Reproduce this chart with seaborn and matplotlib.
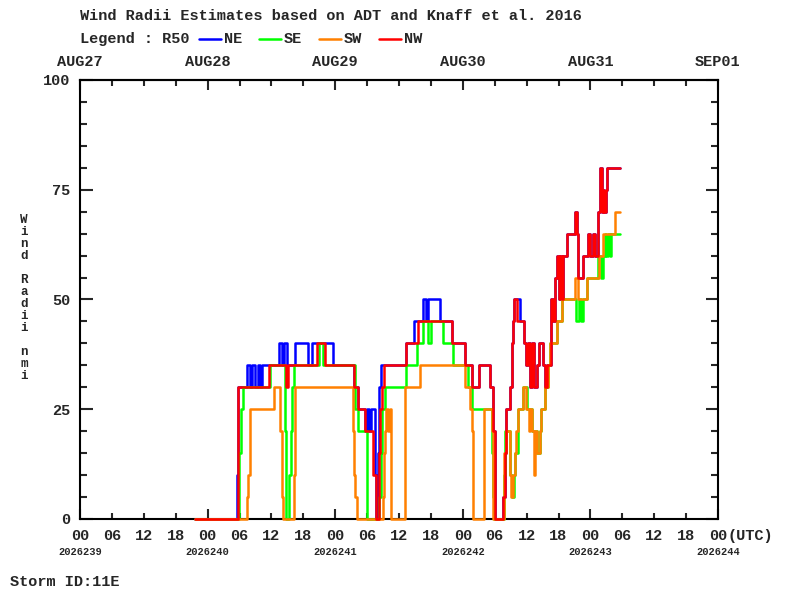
import matplotlib
matplotlib.use('Agg')
import matplotlib.pyplot as plt
import matplotlib.transforms as mtransforms
from matplotlib.lines import Line2D
from matplotlib.ticker import MultipleLocator
import seaborn as sns

# R50 wind radii (nmi), hours since 2026-08-27 00 UTC, step changes
ne_hours = [21.7, 29.5, 29.8, 31.4, 31.9, 32.4, 33.0, 33.4, 33.9, 34.3, 37.4, 37.9, 38.4, 39.0, 40.5, 42.9,
            43.6, 47.5, 51.6, 52.2, 53.6, 53.9, 54.4, 54.8, 55.4, 55.6, 56.0, 56.3, 56.7, 61.4, 62.8, 64.6,
            65.1, 65.5, 67.8, 69.9, 72.4, 73.8, 75.0, 77.2, 77.6, 78.1, 79.6, 79.9, 80.1, 80.9, 81.2, 81.45,
            81.7, 82.8, 83.6, 83.9, 84.2, 84.6, 85.0, 85.4, 85.9, 86.3, 87.1, 87.5, 87.8, 88.5, 89.0, 89.3,
            89.7, 90.0, 90.3, 90.6, 90.9, 91.6, 93.1, 93.5, 93.7, 94.7, 95.6, 96.0, 96.5, 96.9, 97.5, 97.8,
            98.1, 98.4, 98.6, 98.9, 99.1, 101.6]
ne_r50 = [0, 10, 30, 35, 30, 35, 30, 35, 30, 35, 40, 35, 40, 35, 40, 35,
          40, 35, 30, 25, 20, 25, 20, 25, 10, 0, 15, 30, 35, 40, 45, 50,
          45, 50, 45, 40, 35, 30, 35, 30, 20, 0, 5, 15, 25, 30, 40, 45,
          50, 45, 40, 35, 40, 30, 40, 30, 35, 40, 35, 30, 35, 50, 45, 55,
          60, 50, 60, 50, 60, 65, 70, 65, 55, 60, 65, 60, 65, 60, 70, 80,
          70, 75, 70, 75, 80, 80]

se_hours = [21.7, 29.9, 30.2, 30.6, 35.7, 38.6, 38.8, 39.4, 39.6, 39.9, 40.2, 45.0, 45.7, 51.8, 52.2, 53.9,
            56.2, 56.6, 56.8, 57.4, 61.4, 63.4, 64.5, 65.5, 66.1, 68.3, 70.2, 73.0, 73.7, 77.5, 77.7, 77.9,
            79.7, 79.9, 80.9, 81.3, 81.6, 81.9, 82.3, 83.4, 84.0, 85.0, 85.9, 86.5, 86.8, 87.5, 88.1, 88.4,
            89.7, 90.6, 93.2, 93.8, 94.3, 94.6, 95.3, 97.5, 97.9, 98.3, 98.7, 99.0, 99.3, 99.6, 99.9, 101.6]
se_r50 = [0, 15, 25, 30, 35, 20, 0, 10, 20, 30, 35, 40, 35, 25, 20, 0,
          5, 15, 25, 30, 35, 40, 45, 40, 45, 40, 35, 30, 25, 15, 5, 0,
          10, 20, 10, 5, 10, 15, 25, 30, 25, 20, 15, 20, 25, 30, 35, 40,
          45, 50, 45, 50, 45, 50, 55, 60, 55, 60, 65, 60, 65, 60, 65, 65]

sw_hours = [21.7, 31.4, 31.6, 31.9, 36.4, 37.6, 37.9, 38.1, 40.3, 40.5, 51.3, 51.5, 51.8, 52.1, 56.9, 57.2,
            57.4, 57.6, 58.0, 58.3, 58.5, 61.2, 63.9, 72.5, 73.3, 73.7, 73.9, 76.0, 77.4, 77.7, 79.8, 80.1,
            80.9, 81.1, 81.5, 81.8, 82.1, 82.4, 83.4, 83.8, 84.4, 84.7, 85.0, 85.3, 85.6, 85.9, 86.5, 86.8,
            87.5, 88.1, 88.4, 89.7, 90.6, 93.1, 93.6, 95.3, 97.7, 98.4, 100.7, 101.6]
sw_r50 = [0, 5, 10, 25, 30, 20, 5, 0, 10, 30, 20, 10, 5, 0, 5, 15,
          20, 25, 20, 25, 0, 30, 35, 30, 25, 20, 0, 25, 20, 0, 15, 20,
          10, 5, 10, 15, 20, 25, 30, 25, 20, 25, 20, 10, 20, 15, 20, 25,
          30, 35, 40, 45, 50, 55, 50, 55, 60, 65, 70, 70]

nw_hours = [21.7, 29.7, 35.5, 38.7, 39.2, 44.5, 46.1, 51.6, 52.2, 53.6, 55.2, 55.6, 56.2, 56.5, 56.8, 57.2,
            61.4, 63.6, 69.9, 72.4, 73.8, 75.0, 77.2, 77.6, 78.1, 79.6, 79.9, 80.1, 80.9, 81.2, 81.45, 81.7,
            82.2, 83.6, 83.9, 84.2, 84.6, 85.0, 85.4, 85.9, 86.3, 87.1, 87.5, 87.8, 88.5, 89.0, 89.3, 89.7,
            90.0, 90.3, 90.6, 90.9, 91.6, 93.1, 93.5, 93.7, 94.7, 95.6, 96.0, 96.5, 96.9, 97.5, 97.8, 98.1,
            98.4, 98.6, 98.9, 99.1, 101.6]
nw_r50 = [0, 30, 35, 30, 35, 40, 35, 30, 25, 20, 10, 0, 15, 25, 30, 35,
          40, 45, 40, 35, 30, 35, 30, 20, 0, 5, 15, 25, 30, 40, 45, 50,
          45, 40, 35, 40, 30, 40, 30, 35, 40, 35, 30, 35, 50, 45, 55, 60,
          50, 60, 50, 60, 65, 70, 65, 55, 60, 65, 60, 65, 60, 70, 80, 70,
          75, 70, 75, 80, 80]

quadrants = ['NE', 'SE', 'SW', 'NW']
colors = ['#0000ff', '#00ff00', '#ff8000', '#ff0000']

day_labels = ['AUG27', 'AUG28', 'AUG29', 'AUG30', 'AUG31', 'SEP01']
julian_labels = ['2026239', '2026240', '2026241', '2026242', '2026243', '2026244']
hour_labels = ['06', '12', '18']

sns.set_style('white')
plt.rcParams['font.family'] = ['Liberation Mono', 'DejaVu Sans Mono']
plt.rcParams['font.weight'] = 'bold'

fig = plt.figure(figsize=(8, 6), dpi=100)
ax = fig.add_axes([0.1, 0.135, 0.7975, 0.7317])

series = zip([ne_hours, se_hours, sw_hours, nw_hours], [ne_r50, se_r50, sw_r50, nw_r50], colors)
for i, (hrs, vals, col) in enumerate(series):
    sns.lineplot(x=hrs, y=vals, ax=ax, color=col, lw=1.8, drawstyle='steps-post',
                 estimator=None, sort=False, clip_on=False, zorder=3 + i)

ax.set_xlim(0, 120)
ax.set_ylim(0, 100)
ax.set_xlabel('')
ax.set_ylabel('')

day_hours = list(range(0, 121, 24))
ax.set_xticks(day_hours, ['00'] * len(day_hours))
minor_hours = [h for h in range(6, 120, 6) if h % 24]
ax.set_xticks(minor_hours, [hour_labels[(h % 24) // 6 - 1] for h in minor_hours], minor=True)
ax.tick_params(axis='x', which='major', direction='in', length=7, width=1.5,
               top=True, bottom=True, pad=7, labelsize=11)
ax.tick_params(axis='x', which='minor', direction='in', length=4, width=1.5,
               top=True, bottom=True, pad=7, labelsize=11)

ax.set_yticks(range(0, 101, 25))
ax.yaxis.set_minor_locator(MultipleLocator(5))
ax.tick_params(axis='y', which='major', direction='in', length=9, width=1.5,
               left=True, right=True, pad=7, labelsize=11)
ax.tick_params(axis='y', which='minor', direction='in', length=5, width=1.5,
               left=True, right=True)

for sp in ax.spines.values():
    sp.set_color('black')
    sp.set_linewidth(1.5)

top = ax.secondary_xaxis('top')
top.set_xticks(day_hours, day_labels)
top.tick_params(length=0, pad=8, labelsize=11)
top.spines['top'].set_linewidth(1.5)

trans = mtransforms.blended_transform_factory(ax.transData, ax.transAxes)
# "(UTC)" right after the last "00" tick label
ax.annotate('(UTC)', xy=(day_hours[-1], 0), xycoords=trans, xytext=(6.6, -7),
            textcoords='offset points', ha='left', va='top', fontsize=11)
for h, lab in zip(day_hours, julian_labels):
    ax.text(h, -0.076, lab, transform=trans, ha='center', va='center', fontsize=7.5)

fig.text(0.03, 0.503, 'W\ni\nn\nd\n\nR\na\nd\ni\ni\n\nn\nm\ni', ha='center', va='center',
         fontsize=9, linespacing=1.0)

fig.text(0.1, 0.973, 'Wind Radii Estimates based on ADT and Knaff et al. 2016', fontsize=11, va='center')
fig.text(0.1, 0.935, 'Legend : R50', fontsize=11, va='center')
leg_x = [0.249, 0.324, 0.399, 0.474]
for x0, name, col in zip(leg_x, quadrants, colors):
    fig.add_artist(Line2D([x0, x0 + 0.027], [0.935, 0.935], color=col, lw=1.8))
    fig.text(x0 + 0.031, 0.935, name, fontsize=11, va='center')

fig.text(0.0125, 0.03, 'Storm ID:11E', fontsize=11, va='center')

fig.savefig('out.png', dpi=100)
